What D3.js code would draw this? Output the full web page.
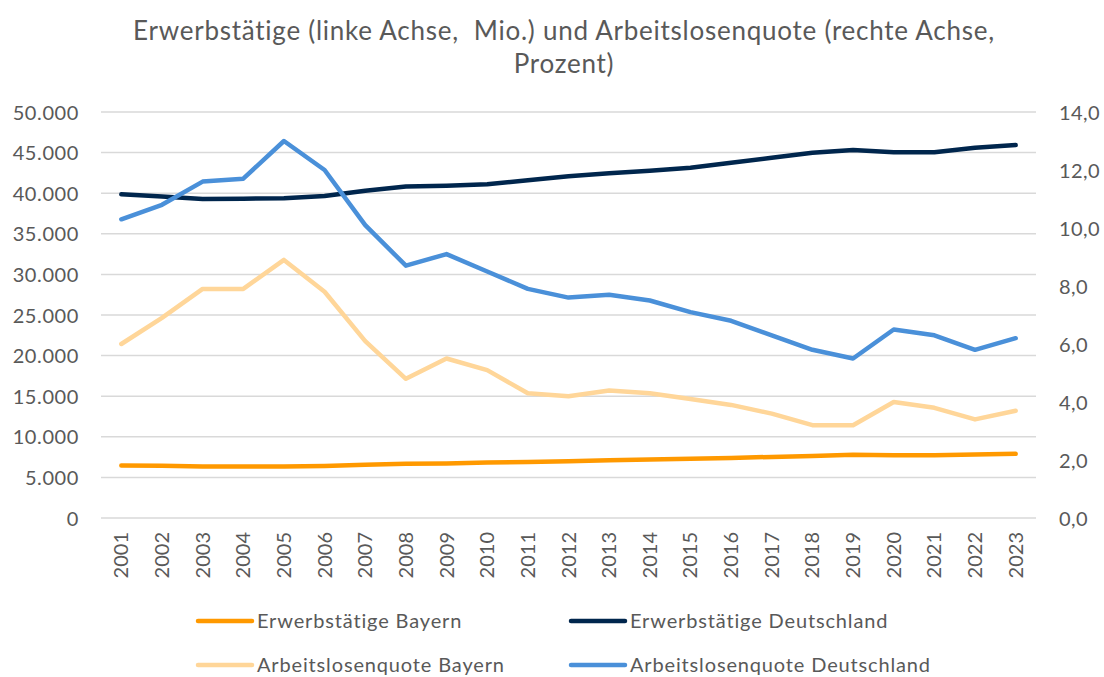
<!DOCTYPE html>
<meta charset="utf-8">
<style>
body { margin: 0; background: #fff; }
svg text { font-family: Lato, "Open Sans", sans-serif; fill: #595959; }
.grid line { stroke: #d9d9d9; stroke-width: 1.5px; }
.series { fill: none; stroke-width: 4.5px; stroke-linecap: round; stroke-linejoin: round; }
</style>
<body>
<script src="https://d3js.org/d3.v7.min.js"></script>
<script>
// Jahre (Kategorien)
var years = ["2001","2002","2003","2004","2005","2006","2007","2008","2009","2010","2011","2012",
             "2013","2014","2015","2016","2017","2018","2019","2020","2021","2022","2023"];

// Erwerbstätige in Tsd. (linke Achse)
var erwBayern = [6460,6440,6350,6350,6350,6400,6550,6680,6720,6830,6900,7000,
                 7100,7200,7300,7400,7520,7650,7800,7720,7720,7830,7900];
var erwDeutschland = [39860,39600,39290,39330,39370,39650,40300,40820,40920,41100,41600,42100,
                      42450,42770,43140,43760,44370,44990,45320,45030,45030,45600,45930];

// Arbeitslosenquote in Prozent (rechte Achse)
var alqBayern = [6.0,6.9,7.9,7.9,8.9,7.8,6.1,4.8,5.5,5.1,4.3,4.2,
                 4.4,4.3,4.1,3.9,3.6,3.2,3.2,4.0,3.8,3.4,3.7];
var alqDeutschland = [10.3,10.8,11.6,11.7,13.0,12.0,10.1,8.7,9.1,8.5,7.9,7.6,
                      7.7,7.5,7.1,6.8,6.3,5.8,5.5,6.5,6.3,5.8,6.2];

var leftTicks = [0,5000,10000,15000,20000,25000,30000,35000,40000,45000,50000];
var rightTicks = [0,2,4,6,8,10,12,14];

var series = [
  {name: "Erwerbstätige Bayern", values: erwBayern, axis: "left", color: "#ff9900"},
  {name: "Erwerbstätige Deutschland", values: erwDeutschland, axis: "left", color: "#00264d"},
  {name: "Arbeitslosenquote Bayern", values: alqBayern, axis: "right", color: "#ffd699"},
  {name: "Arbeitslosenquote Deutschland", values: alqDeutschland, axis: "right", color: "#4a90d9"}
];

var W = 1104, H = 677;
var plot = {left: 101, right: 1036, top: 112, bottom: 518};

var de = d3.formatLocale({decimal: ",", thousands: ".", grouping: [3], currency: ["", " €"]});
var fmtLeft = de.format(",.0f");
var fmtRight = de.format(".1f");

var svg = d3.select("body").append("svg")
    .attr("width", W).attr("height", H);

var x = d3.scaleBand().domain(years).range([plot.left, plot.right]);
var yL = d3.scaleLinear().domain([0, 50000]).range([plot.bottom, plot.top]);
var yR = d3.scaleLinear().domain([0, 14]).range([plot.bottom, plot.top]);

// title
var title = svg.append("text")
    .attr("text-anchor", "middle")
    .style("font-size", "26px")
    .style("letter-spacing", "0.75px")
    .style("white-space", "pre");
title.append("tspan").attr("x", 564).attr("y", 40)
    .text("Erwerbstätige (linke Achse,  Mio.) und Arbeitslosenquote (rechte Achse,");
title.append("tspan").attr("x", 564).attr("y", 73)
    .text("Prozent)");

// gridlines
svg.append("g").attr("class", "grid")
  .selectAll("line").data(leftTicks).enter().append("line")
    .attr("x1", plot.left).attr("x2", plot.right)
    .attr("y1", d => yL(d)).attr("y2", d => yL(d));

// left axis
var gl = svg.append("g")
    .attr("transform", "translate(" + (plot.left - 22) + ",0)")
    .call(d3.axisLeft(yL).tickValues(leftTicks).tickFormat(fmtLeft).tickSize(0).tickPadding(0));
gl.select(".domain").remove();
gl.selectAll("text").style("font-size", "20px").style("letter-spacing", "0.6px").attr("dy", "0.35em");

// right axis
var gr = svg.append("g")
    .attr("transform", "translate(" + (plot.right + 23) + ",0)")
    .call(d3.axisRight(yR).tickValues(rightTicks).tickFormat(fmtRight).tickSize(0).tickPadding(0));
gr.select(".domain").remove();
gr.selectAll("text").style("font-size", "20px").style("letter-spacing", "0.4px").attr("dy", "0.35em");

// x axis, rotated labels
var gx = svg.append("g")
    .attr("transform", "translate(0," + (plot.bottom + 14) + ")")
    .call(d3.axisBottom(x).tickSize(0).tickPadding(0));
gx.select(".domain").remove();
gx.selectAll("text")
    .style("font-size", "20px")
    .attr("text-anchor", "end")
    .attr("transform", "rotate(-90)")
    .attr("x", 0).attr("y", 0).attr("dy", "0.35em");

// lines
series.forEach(function(s) {
  var yy = s.axis == "left" ? yL : yR;
  var line = d3.line()
      .x((d, i) => x(years[i]) + x.bandwidth() / 2)
      .y(d => yy(d));
  svg.append("path")
      .attr("class", "series")
      .attr("stroke", s.color)
      .attr("d", line(s.values));
});

// legend
var legPos = [[198, 621], [571, 621], [198, 665], [571, 665]];
var leg = svg.append("g").selectAll("g").data(series).enter().append("g")
    .attr("transform", (d, i) => "translate(" + legPos[i][0] + "," + legPos[i][1] + ")");
leg.append("line")
    .attr("x1", 0).attr("x2", 54).attr("y1", 0).attr("y2", 0)
    .attr("stroke", d => d.color).attr("stroke-width", 4.5).attr("stroke-linecap", "round");
leg.append("text")
    .attr("x", 59).attr("y", 0).attr("dy", "0.35em")
    .style("font-size", "20px")
    .style("letter-spacing", "0.85px")
    .text(d => d.name);
</script>
</body>
